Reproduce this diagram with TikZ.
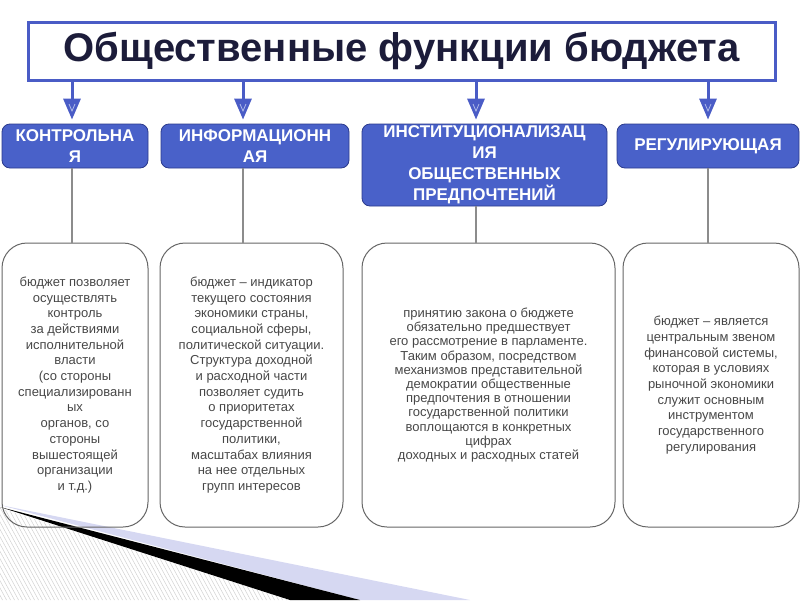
\documentclass[tikz,border=0pt]{standalone}
\usepackage{fontspec}
\setmainfont{Liberation Sans}
\usetikzlibrary{arrows.meta}
\definecolor{tblue}{HTML}{4A5CC6}
\definecolor{hblue}{HTML}{4961C9}
\definecolor{hborder}{HTML}{2B3A8C}
\definecolor{ttext}{HTML}{1C1C3A}
\definecolor{btext}{HTML}{474747}
\definecolor{lav}{HTML}{D6D8F2}
\tikzset{
  titlebox/.style={draw=tblue,line width=3pt,minimum width=747pt,minimum height=58pt,inner sep=0pt,
    font=\bfseries\fontsize{40}{48}\selectfont,text=ttext},
  headbox/.style={draw=hborder,line width=0.8pt,fill=hblue,rounded corners=8pt,inner sep=0pt,
    text=white,align=center,font=\bfseries\fontsize{17}{21}\selectfont},
  bodybox/.style={draw=black!60,line width=1pt,rounded corners=25pt,minimum height=284pt,inner sep=0pt,
    text=btext,align=center,font=\fontsize{13}{15.7}\selectfont},
  downarrow/.style={draw=tblue,line width=3pt,-{Triangle[width=17pt,length=21pt]},shorten >=4pt},
  conn/.style={draw=black!45,line width=1.3pt},
  chev/.style={draw=hblue!45!white,line width=0.8pt}
}
\begin{document}
\begin{tikzpicture}[x=1pt,y=-1pt]
\useasboundingbox (0,0) rectangle (800,600);
% decoration bottom-left
\begin{scope}
\clip (0,508) -- (290,600) -- (0,600) -- cycle;
\foreach \i in {-60,-56,...,300} {
  \draw[black!18,line width=0.5pt] (\i,500) -- ++(60,110);
}
\end{scope}
\fill[lav] (0,505) -- (470,600) -- (360,600) -- cycle;
\fill[black] (0,507) -- (360,600) -- (290,600) -- cycle;
% title
\node[titlebox] (title) at (401.5,51) {Общественные функции бюджета};
% header boxes
\node[headbox,minimum width=146pt,minimum height=44pt] (h1) at (75,146) {КОНТРОЛЬНА\\Я};
\node[headbox,minimum width=188pt,minimum height=44pt] (h2) at (255,146) {ИНФОРМАЦИОНН\\АЯ};
\node[headbox,minimum width=245pt,minimum height=82pt] (h3) at (484.5,165) {ИНСТИТУЦИОНАЛИЗАЦ\\ИЯ\\ОБЩЕСТВЕННЫХ\\ПРЕДПОЧТЕНИЙ};
\node[headbox,minimum width=182pt,minimum height=44pt] (h4) at (708,146) {РЕГУЛИРУЮЩАЯ};
% body boxes
\node[bodybox,minimum width=146pt] (b1) at (75,385) {бюджет позволяет\\осуществлять\\контроль\\за действиями\\исполнительной\\власти\\(со стороны\\специализированн\\ых\\органов, со\\стороны\\вышестоящей\\организации\\и т.д.)};
\node[bodybox,minimum width=183pt] (b2) at (251.5,385) {бюджет – индикатор\\текущего состояния\\экономики страны,\\социальной сферы,\\политической ситуации.\\Структура доходной\\и расходной части\\позволяет судить\\о приоритетах\\государственной\\политики,\\масштабах влияния\\на нее отдельных\\групп интересов};
\node[bodybox,minimum width=253pt,font=\fontsize{13}{14.2}\selectfont] (b3) at (488.5,385) {принятию закона о бюджете\\обязательно предшествует\\его рассмотрение в парламенте.\\Таким образом, посредством\\механизмов представительной\\демократии общественные\\предпочтения в отношении\\государственной политики\\воплощаются в конкретных\\цифрах\\доходных и расходных статей};
\node[bodybox,minimum width=176pt] (b4) at (711,385) {бюджет – является\\центральным звеном\\финансовой системы,\\которая в условиях\\рыночной экономики\\служит основным\\инструментом\\государственного\\регулирования};
% arrow x positions
\coordinate (a1) at (72,0);
\coordinate (a2) at (243,0);
\coordinate (a3) at (476,0);
\coordinate (a4) at (708,0);
\foreach \k in {1,2,3,4} {
  \draw[downarrow] (title.south -| a\k) -- (h\k.north -| a\k);
  \draw[conn] (h\k.south -| a\k) -- (b\k.north -| a\k);
}
\foreach \k in {1,2,3,4} {
  \draw[chev] ([xshift=-3pt,yshift=-104pt]a\k) -- ([yshift=-111pt]a\k) -- ([xshift=3pt,yshift=-104pt]a\k);
}
\end{tikzpicture}
\end{document}
